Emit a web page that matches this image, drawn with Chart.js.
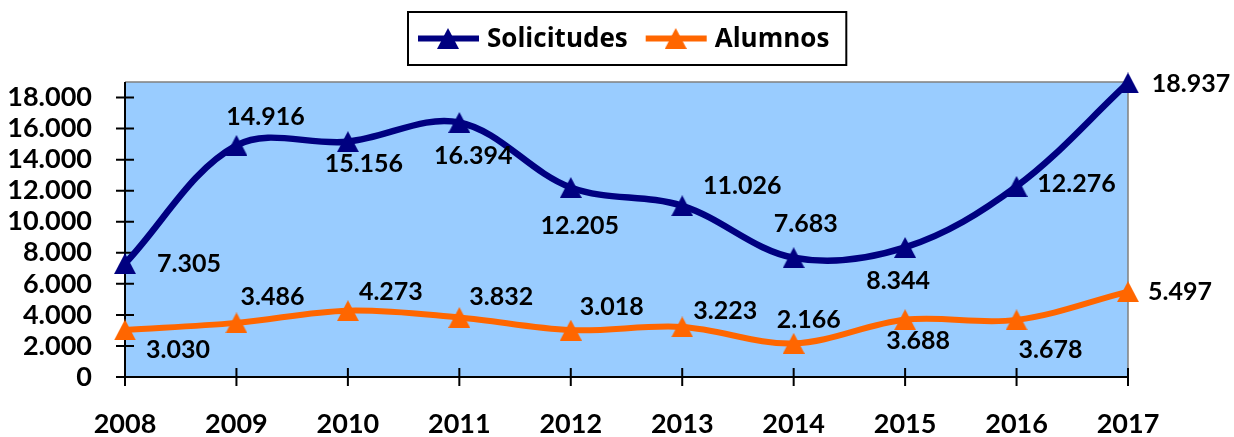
<!DOCTYPE html>
<html><head><meta charset="utf-8">
<script src="https://cdn.jsdelivr.net/npm/chart.js@4.4.0/dist/chart.umd.min.js"></script>
<style>html,body{margin:0;padding:0;background:#fff;overflow:hidden}#wrap{width:1234px;height:437px}</style>
</head><body><div id="wrap"><canvas id="c" width="1234" height="437"></canvas></div>
<script>
// ---- data ----
const years = ['2008','2009','2010','2011','2012','2013','2014','2015','2016','2017'];
const solicitudes = [7305,14916,15156,16394,12205,11026,7683,8344,12276,18937];
const alumnos = [3030,3486,4273,3832,3018,3223,2166,3688,3678,5497];
const yTicks = [0,2000,4000,6000,8000,10000,12000,14000,16000,18000];
const seriesNames = ['Solicitudes','Alumnos'];

// ---- style ----
const FONT = 'Lato, "Open Sans", sans-serif';
const LEGEND_FONT = '"Open Sans", Lato, sans-serif';
const colors = ['#000080','#FF6600'];
const labelOffsets = [
  [[64,0],[29,-28],[16,22],[14,33],[9,38],[60,-20],[12,-34],[-7,33],[60,-2],[63,1]],
  [[53,20],[36,-26],[43,-19],[42,-21],[41,-23],[43,-16],[15,-23],[13,21],[34,30],[52,0]]
];
const fmt = v => String(v).replace(/\B(?=(\d{3})+(?!\d))/g,'.');

function triangleImg(color){
  const c = document.createElement('canvas');
  c.width = 22; c.height = 21;
  const g = c.getContext('2d');
  g.fillStyle = color;
  g.beginPath(); g.moveTo(11,0); g.lineTo(22,21); g.lineTo(0,21); g.closePath(); g.fill();
  return c;
}
const tri = colors.map(triangleImg);

const framePlugin = {
  id:'frame',
  beforeDatasetsDraw(chart){
    const {ctx, chartArea:a, scales} = chart;
    ctx.save();
    ctx.fillStyle = '#99CCFF';
    ctx.fillRect(a.left, a.top, a.right-a.left, a.bottom-a.top);
    ctx.strokeStyle = '#808080'; ctx.lineWidth = 1.5;
    ctx.beginPath(); ctx.moveTo(a.left, a.top); ctx.lineTo(a.right, a.top); ctx.lineTo(a.right, a.bottom); ctx.stroke();
    ctx.strokeStyle = '#000'; ctx.lineWidth = 2;
    ctx.beginPath();
    ctx.moveTo(a.left, a.top); ctx.lineTo(a.left, a.bottom); ctx.lineTo(a.right, a.bottom);
    yTicks.forEach(v => { const y = scales.y.getPixelForValue(v); ctx.moveTo(a.left-9, y); ctx.lineTo(a.left+9, y); });
    years.forEach((yr,i) => { const x = scales.x.getPixelForValue(i); ctx.moveTo(x, a.bottom-9); ctx.lineTo(x, a.bottom+9); });
    ctx.stroke();
    ctx.restore();
  },
  afterDatasetsDraw(chart){
    const ctx = chart.ctx;
    ctx.save();
    ctx.fillStyle = '#000';
    ctx.font = 'bold 25px ' + FONT;
    ctx.textAlign = 'center'; ctx.textBaseline = 'middle';
    [solicitudes, alumnos].forEach((arr, di) => {
      const meta = chart.getDatasetMeta(di);
      meta.data.forEach((pt, i) => {
        const o = labelOffsets[di][i];
        ctx.fillText(fmt(arr[i]), pt.x + o[0], pt.y + o[1]);
      });
    });
    // legend
    ctx.font = 'bold 26px ' + LEGEND_FONT;
    ctx.textAlign = 'left';
    const left = 408, top = 12, h = 53, cy = top + h/2;
    let x = left + 10;
    seriesNames.forEach((name, i) => {
      ctx.strokeStyle = colors[i]; ctx.lineWidth = 6;
      ctx.beginPath(); ctx.moveTo(x, cy); ctx.lineTo(x+61, cy); ctx.stroke();
      ctx.drawImage(tri[i], x+30-11, cy-10.5);
      x += 69;
      ctx.fillStyle = '#000';
      ctx.fillText(name, x, cy+1);
      x += ctx.measureText(name).width + 18;
    });
    const right = x - 1;
    ctx.strokeStyle = '#000'; ctx.lineWidth = 2;
    ctx.strokeRect(left, top, right-left, h);
    ctx.restore();
  }
};

new Chart(document.getElementById('c'), {
  type:'line',
  data:{
    labels: years,
    datasets:[
      {label: seriesNames[0], data: solicitudes, borderColor: colors[0], backgroundColor: colors[0], borderWidth: 6.5, tension: 0.35, pointStyle: tri[0], pointRadius: 11, clip: false},
      {label: seriesNames[1], data: alumnos, borderColor: colors[1], backgroundColor: colors[1], borderWidth: 6, tension: 0.35, pointStyle: tri[1], pointRadius: 11, clip: false}
    ]
  },
  options:{
    responsive:false, animation:false, devicePixelRatio:1,
    layout:{padding:{left:0, top:82, right:106, bottom:0}},
    plugins:{legend:{display:false}, tooltip:{enabled:false}},
    scales:{
      x:{type:'category', offset:false, grid:{display:false}, border:{display:false},
         ticks:{color:'#000', font:{family:FONT, size:27, weight:'bold'}, padding:23, maxRotation:0, autoSkip:false},
         afterFit(s){ s.height = 60; }},
      y:{min:0, max:19000, grid:{display:false}, border:{display:false},
         afterBuildTicks(s){ s.ticks = yTicks.map(v => ({value:v})); },
         ticks:{color:'#000', font:{family:FONT, size:27, weight:'bold'}, padding:25, autoSkip:false, callback: v => fmt(v)},
         afterFit(s){ s.width = 125; }}
    }
  },
  plugins:[framePlugin]
});
</script></body></html>
